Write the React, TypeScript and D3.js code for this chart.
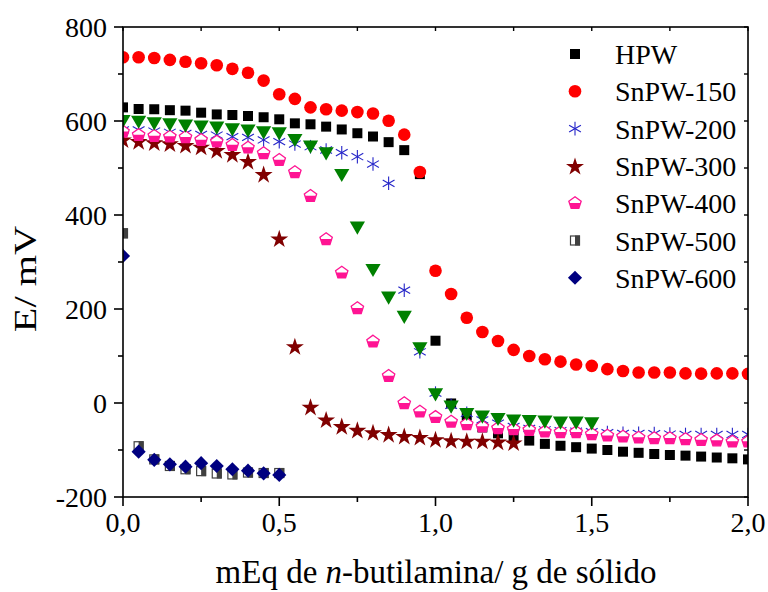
import React from "react";
import * as d3 from "d3";

const X = [0, 0.05, 0.1, 0.15, 0.2, 0.25, 0.3, 0.35, 0.4, 0.45, 0.5, 0.55, 0.6, 0.65, 0.7, 0.75, 0.8, 0.85, 0.9, 0.95, 1.0, 1.05, 1.1, 1.15, 1.2, 1.25, 1.3, 1.35, 1.4, 1.45, 1.5, 1.55, 1.6, 1.65, 1.7, 1.75, 1.8, 1.85, 1.9, 1.95, 2.0];

const hpw = [629, 625.5, 625, 623, 622, 617.7, 614, 612.8, 610.6, 608, 603.6, 595, 593, 588, 582, 574, 567, 555, 538, 487, 132.5, -1, -27, -52, -64.5, -72, -80, -87, -91, -94, -97, -100, -103.6, -106, -108.5, -110.6, -112, -114, -116, -117.7, -120];
const snpw150 = [735.5, 735.5, 734, 730, 726, 723, 718.5, 711, 702.6, 686, 657, 647, 629, 625, 622, 619, 616, 600.6, 571, 491.5, 281.5, 232, 181.5, 151, 132, 113, 100, 93, 88, 82, 79, 72, 68, 65, 65, 65, 63, 62.5, 63, 63, 62];
const snpw200 = [581, 581, 578.7, 576, 573.8, 571.7, 570.2, 566.6, 565.3, 559.6, 556, 551, 545.3, 538.3, 532.6, 524, 508.5, 467.4, 240, 109, 21, -5, -22, -36, -43, -50, -54, -57, -59, -60, -61, -63, -64.5, -64.5, -65, -66, -67, -67, -67, -67, -67];
const snpw300 = [561, 557.4, 554.7, 552.6, 549, 545.3, 538.3, 529.8, 514.9, 487.2, 350.4, 121, -8, -35, -49, -57, -62, -66, -70, -72, -77, -79, -80, -80, -82, -84];
const snpw400 = [577, 570, 568, 566.6, 565.3, 559.6, 556, 549, 543.2, 531.3, 517, 490.9, 440.4, 348.3, 277.2, 201.5, 130.5, 57.4, -0.7, -18.5, -30, -40, -45.4, -50.4, -53.8, -56, -57.4, -61, -62.3, -62.3, -66.7, -69.6, -71.7, -73.8, -75.2, -75.2, -77.2, -78.7, -80, -82.3, -82.3];
const snpw500 = [361, -92, -120, -134, -141, -145, -150, -152, -148, -149, -149];
const snpw600 = [313, -103.6, -121, -130.5, -135.5, -128, -134, -141, -144, -149.6, -153];
const greenSeries = [603.6, 602, 598.5, 596.4, 593.6, 591.5, 589.4, 585.8, 583, 579.4, 577.2, 563.2, 549, 534.7, 488.7, 376.6, 286.6, 227.7, 187, 119.8, 21.9, -4, -19.8, -25.5, -30.4, -34, -34.7, -36, -38.3, -38.3, -39.7];

const yTicks = [-200, 0, 200, 400, 600, 800];
const xTicks = [0, 0.5, 1.0, 1.5, 2.0];
const xTickLabels = ["0,0", "0,5", "1,0", "1,5", "2,0"];

type Shape = "square" | "circle" | "asterisk" | "star" | "pentagon" | "halfsquare" | "diamond" | "triangle";

const series: { name: string; values: number[]; color: string; shape: Shape; legend: boolean }[] = [
  { name: "HPW", values: hpw, color: "#000000", shape: "square", legend: true },
  { name: "SnPW-150", values: snpw150, color: "#ff0000", shape: "circle", legend: true },
  { name: "SnPW-200", values: snpw200, color: "#2424c8", shape: "asterisk", legend: true },
  { name: "SnPW-300", values: snpw300, color: "#800000", shape: "star", legend: true },
  { name: "SnPW-400", values: snpw400, color: "#ff1493", shape: "pentagon", legend: true },
  { name: "SnPW-500", values: snpw500, color: "#404040", shape: "halfsquare", legend: true },
  { name: "SnPW-600", values: snpw600, color: "#000080", shape: "diamond", legend: true },
  { name: "", values: greenSeries, color: "#008000", shape: "triangle", legend: false },
];

const W = 768, H = 592;
const left = 123, right = 748, top = 27, bottom = 497;
const FONT = "Times New Roman, Liberation Serif, serif";
const fontStyle = { fontFamily: FONT };

const xs = d3.scaleLinear().domain([0, 2]).range([left, right]);
const ys = d3.scaleLinear().domain([-200, 800]).range([bottom, top]);

const starPath = d3.symbol().type(d3.symbolStar).size(100)()!;
const squarePath = d3.symbol().type(d3.symbolSquare).size(100)()!;
const circlePath = d3.symbol().type(d3.symbolCircle).size(125)()!;
const triPath = d3.symbol().type(d3.symbolTriangle).size(100)()!;

function pentagon(r: number) {
  const pts = d3.range(5).map((i) => {
    const a = (i * 2 * Math.PI) / 5;
    return [r * Math.sin(a), -r * Math.cos(a)];
  });
  return "M" + pts.map((p) => p.join(",")).join("L") + "Z";
}
function pentagonLower(r: number) {
  return `M${0.8507 * r},${-0.05 * r}L${0.588 * r},${0.809 * r}L${-0.588 * r},${0.809 * r}L${-0.8507 * r},${-0.05 * r}Z`;
}

function Marker({ shape, color, x, y }: { shape: Shape; color: string; x: number; y: number }) {
  const t = `translate(${x},${y})`;
  switch (shape) {
    case "square":
      return <path d={squarePath} transform={t} fill={color} />;
    case "circle":
      return <path d={circlePath} transform={t} fill={color} />;
    case "star":
      return <path d={starPath} transform={`${t} translate(0,1)`} fill={color} />;
    case "triangle":
      return <path d={triPath} transform={`${t} rotate(180)`} fill={color} />;
    case "diamond":
      return <rect x={-5} y={-5} width={10} height={10} transform={`${t} rotate(45)`} fill={color} />;
    case "asterisk": {
      const r = 6.8;
      const c = Math.cos(Math.PI / 6) * r, s = Math.sin(Math.PI / 6) * r;
      return (
        <g transform={t} stroke={color} strokeWidth={1.1}>
          <line x1={0} y1={-r} x2={0} y2={r} />
          <line x1={-c} y1={-s} x2={c} y2={s} />
          <line x1={-c} y1={s} x2={c} y2={-s} />
        </g>
      );
    }
    case "pentagon":
      return (
        <g transform={t}>
          <path d={pentagon(6.5)} fill="#ffffff" stroke={color} strokeWidth={1.3} />
          <path d={pentagonLower(6.5)} fill={color} />
        </g>
      );
    case "halfsquare":
      return (
        <g transform={t}>
          <rect x={-4.5} y={-4.5} width={9} height={9} fill="#ffffff" stroke={color} strokeWidth={1.2} />
          <rect x={0} y={-5} width={5} height={10} fill={color} />
        </g>
      );
  }
  return null;
}

export default function App() {
  const yMinor = d3.range(-100, 800, 200);
  const xMinor = [0.25, 0.75, 1.25, 1.75];
  const yAll = d3.range(-200, 801, 100);
  const xAll = d3.range(0, 2.001, 0.25);
  const legendItems = series.filter((s) => s.legend);
  return (
    <svg width={W} height={H} style={{ position: "absolute", left: 0, top: 0 }}>
      <rect x={0} y={0} width={W} height={H} fill="#ffffff" />
      <defs>
        <clipPath id="plotclip">
          <rect x={left} y={top} width={right - left} height={bottom - top} />
        </clipPath>
      </defs>
      <g clipPath="url(#plotclip)">
        {series.map((s) => (
          <g key={s.name || "green"}>
            {s.values.map((v, i) => (
              <Marker key={i} shape={s.shape} color={s.color} x={xs(X[i])} y={ys(v)} />
            ))}
          </g>
        ))}
      </g>
      <rect x={left} y={top} width={right - left} height={bottom - top} fill="none" stroke="#000" strokeWidth={1.6} />
      {yTicks.map((v) => (
        <g key={"yt" + v}>
          <line x1={left - 9} x2={left} y1={ys(v)} y2={ys(v)} stroke="#000" strokeWidth={1.6} />
          <text x={107} y={ys(v) + 9.5} textAnchor="end" fontSize={28} fill="#000" style={fontStyle}>
            {v < 0 ? "-" + Math.abs(v) : String(v)}
          </text>
        </g>
      ))}
      {yMinor.map((v) => (
        <line key={"ym" + v} x1={left - 5} x2={left} y1={ys(v)} y2={ys(v)} stroke="#000" strokeWidth={1.6} />
      ))}
      {yAll.map((v) => (
        <line key={"yr" + v} x1={right - 4} x2={right} y1={ys(v)} y2={ys(v)} stroke="#000" strokeWidth={1.4} />
      ))}
      {xTicks.map((v, i) => (
        <g key={"xt" + v}>
          <line x1={xs(v)} x2={xs(v)} y1={bottom} y2={bottom + 9} stroke="#000" strokeWidth={1.6} />
          <text x={xs(v)} y={532} textAnchor="middle" fontSize={28} fill="#000" style={fontStyle}>
            {xTickLabels[i]}
          </text>
        </g>
      ))}
      {xMinor.map((v) => (
        <line key={"xm" + v} x1={xs(v)} x2={xs(v)} y1={bottom} y2={bottom + 5} stroke="#000" strokeWidth={1.6} />
      ))}
      {xAll.map((v) => (
        <line key={"xtop" + v} x1={xs(v)} x2={xs(v)} y1={top} y2={top + 4} stroke="#000" strokeWidth={1.4} />
      ))}
      <text x={436} y={583} textAnchor="middle" fontSize={33} fill="#000" style={fontStyle}>
        mEq de <tspan fontStyle="italic">n</tspan>-butilamina/ g de sólido
      </text>
      <text transform="translate(36,279) rotate(-90) scale(1.3,1)" textAnchor="middle" fontSize={31} fill="#000" style={fontStyle}>
        E/ mV
      </text>
      {legendItems.map((s, i) => {
        const cy = 54 + i * 37.3;
        return (
          <g key={"lg" + s.name}>
            <Marker shape={s.shape} color={s.color} x={575} y={cy} />
            <text x={615} y={cy + 10} fontSize={28} fill="#000" style={fontStyle}>
              {s.name}
            </text>
          </g>
        );
      })}
    </svg>
  );
}
